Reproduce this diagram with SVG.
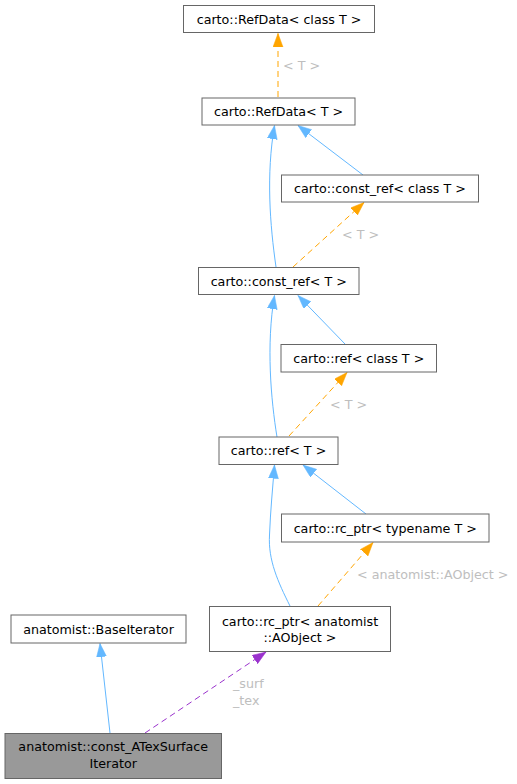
<svg xmlns="http://www.w3.org/2000/svg" width="517" height="784" viewBox="0 0 517 784">
<defs>
<style>
.n rect{fill:#ffffff;stroke:#666666;stroke-width:1}
.n.hl rect{fill:#999999}
text{font-family:"DejaVu Sans","Liberation Sans",sans-serif;font-size:12.7px;fill:#000000;text-anchor:middle}
text.lbl{fill:#bebebe;text-anchor:start}
.e{fill:none;stroke-width:1}
.blue{stroke:#63b8ff;marker-end:url(#ab)}
.orange{stroke:#ffa500;stroke-dasharray:6,4;marker-end:url(#ao)}
.purple{stroke:#9a32cd;stroke-dasharray:6,4;marker-end:url(#ap)}
</style>
<marker id="ab" markerUnits="userSpaceOnUse" markerWidth="15" markerHeight="11" refX="13.5" refY="5" orient="auto"><path d="M0,0 L13.5,5 L0,10 z" fill="#63b8ff" stroke="#63b8ff" stroke-width="0.5"/></marker>
<marker id="ao" markerUnits="userSpaceOnUse" markerWidth="15" markerHeight="11" refX="13.5" refY="5" orient="auto"><path d="M0,0 L13.5,5 L0,10 z" fill="#ffa500" stroke="#ffa500" stroke-width="0.5"/></marker>
<marker id="ap" markerUnits="userSpaceOnUse" markerWidth="15" markerHeight="11" refX="13.5" refY="5" orient="auto"><path d="M0,0 L13.5,5 L0,10 z" fill="#9a32cd" stroke="#9a32cd" stroke-width="0.5"/></marker>
</defs>
<rect width="517" height="784" fill="#ffffff"/>
<g id="edges">
<path class="e orange" d="M278,97 L278,33.5"/>
<text class="lbl" x="283" y="69.5">&lt; T &gt;</text>
<path class="e blue" d="M276,267 C270,225 266,175 274.5,125.5"/>
<path class="e blue" d="M363,175 L298,125.5"/>
<path class="e orange" d="M293,267 L364,202.5"/>
<text class="lbl" x="342" y="239">&lt; T &gt;</text>
<path class="e blue" d="M277,437 C271,400 266,345 274.5,295.5"/>
<path class="e blue" d="M345,344 L298,295.5"/>
<path class="e orange" d="M289,436 L347,372.5"/>
<text class="lbl" x="330" y="408.5">&lt; T &gt;</text>
<path class="e blue" d="M290,606 C278,582 268,560 269.5,535 C270.5,510 272.5,490 274.5,465"/>
<path class="e blue" d="M366,514 L303,465"/>
<path class="e orange" d="M318,606 L373,542.5"/>
<text class="lbl" x="357" y="579">&lt; anatomist::AObject &gt;</text>
<path class="e blue" d="M110,733 L100,643.5"/>
<path class="e purple" d="M145,733 L266,652"/>
<text class="lbl" x="233" y="688">_surf</text>
<text class="lbl" x="233" y="704.5">_tex</text>
</g>
<g id="node1" class="n"><rect x="183.5" y="5.5" width="191" height="27"/><text x="279" y="23.5">carto::RefData&lt; class T &gt;</text></g>
<g id="node2" class="n"><rect x="202" y="98" width="153" height="27"/><text x="278.5" y="116">carto::RefData&lt; T &gt;</text></g>
<g id="node3" class="n"><rect x="281.5" y="175" width="197" height="27"/><text x="380" y="193">carto::const_ref&lt; class T &gt;</text></g>
<g id="node4" class="n"><rect x="198.5" y="267.5" width="160.5" height="27"/><text x="278.75" y="285.5">carto::const_ref&lt; T &gt;</text></g>
<g id="node5" class="n"><rect x="281" y="344.5" width="155.5" height="27.5"/><text x="358.75" y="362.5">carto::ref&lt; class T &gt;</text></g>
<g id="node6" class="n"><rect x="219" y="437" width="119" height="27.5"/><text x="278.5" y="455">carto::ref&lt; T &gt;</text></g>
<g id="node7" class="n"><rect x="281.5" y="514" width="207.5" height="28"/><text x="385.25" y="532.5">carto::rc_ptr&lt; typename T &gt;</text></g>
<g id="node8" class="n"><rect x="209.5" y="606.5" width="181" height="45"/><text x="300" y="625.5">carto::rc_ptr&lt; anatomist</text><text x="300" y="641.5">::AObject &gt;</text></g>
<g id="node9" class="n"><rect x="11" y="615" width="175" height="28"/><text x="98.5" y="633.5">anatomist::BaseIterator</text></g>
<g id="node10" class="n hl"><rect x="5" y="733.5" width="216.5" height="45"/><text x="113.25" y="751">anatomist::const_ATexSurface</text><text x="113.25" y="767.5">Iterator</text></g>
</svg>
